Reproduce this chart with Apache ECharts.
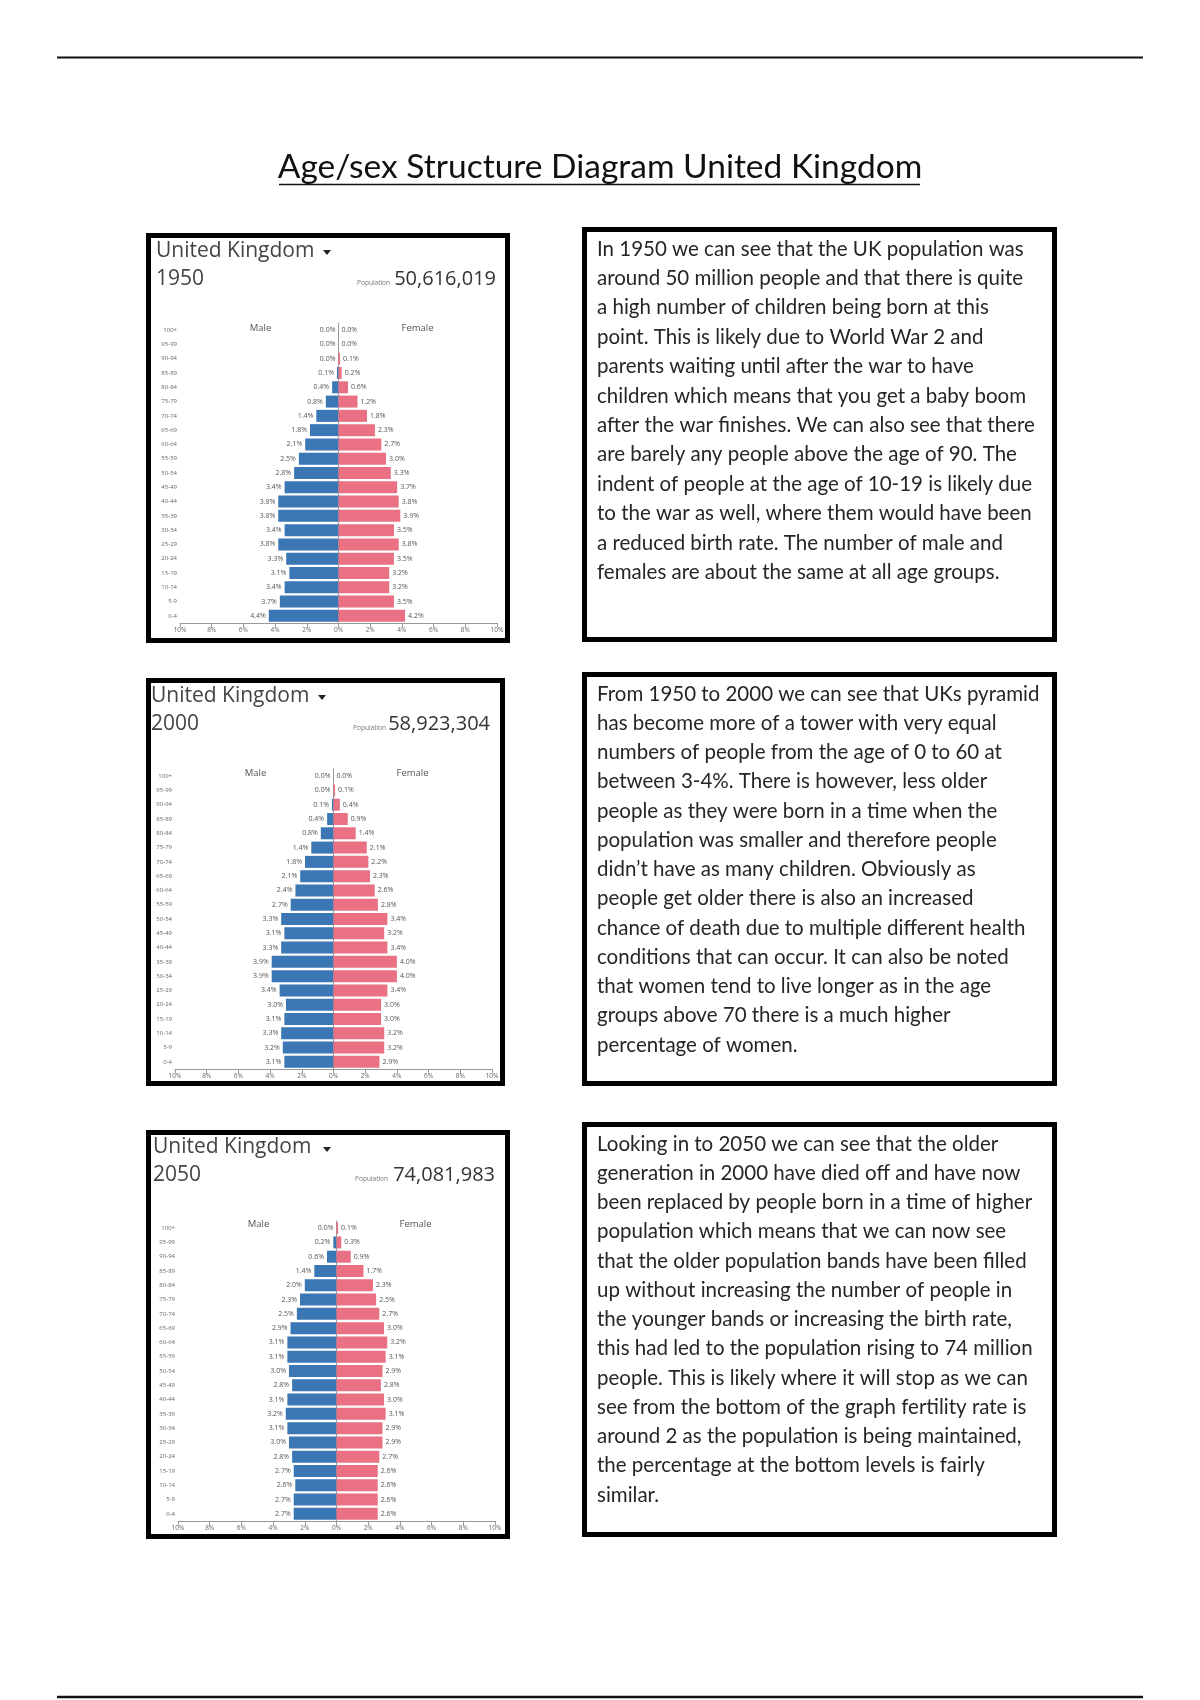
<!DOCTYPE html>
<html><head><meta charset="utf-8">
<script src="https://cdn.jsdelivr.net/npm/echarts@6/dist/echarts.min.js"></script>
<style>html,body{margin:0;padding:0;background:#fff}#c{width:1200px;height:1700px}</style>
</head><body><div id="c"></div>
<script>
// ---------- DATA ----------
const ageGroups = ['0-4','5-9','10-14','15-19','20-24','25-29','30-34','35-39','40-44','45-49','50-54','55-59','60-64','65-69','70-74','75-79','80-84','85-89','90-94','95-99','100+'];

const male1950   = [4.4,3.7,3.4,3.1,3.3,3.8,3.4,3.8,3.8,3.4,2.8,2.5,2.1,1.8,1.4,0.8,0.4,0.1,0.0,0.0,0.0];
const female1950 = [4.2,3.5,3.2,3.2,3.5,3.8,3.5,3.9,3.8,3.7,3.3,3.0,2.7,2.3,1.8,1.2,0.6,0.2,0.1,0.0,0.0];

const male2000   = [3.1,3.2,3.3,3.1,3.0,3.4,3.9,3.9,3.3,3.1,3.3,2.7,2.4,2.1,1.8,1.4,0.8,0.4,0.1,0.0,0.0];
const female2000 = [2.9,3.2,3.2,3.0,3.0,3.4,4.0,4.0,3.4,3.2,3.4,2.8,2.6,2.3,2.2,2.1,1.4,0.9,0.4,0.1,0.0];

const male2050   = [2.7,2.7,2.6,2.7,2.8,3.0,3.1,3.2,3.1,2.8,3.0,3.1,3.1,2.9,2.5,2.3,2.0,1.4,0.6,0.2,0.0];
const female2050 = [2.6,2.6,2.6,2.6,2.7,2.9,2.9,3.1,3.0,2.8,2.9,3.1,3.2,3.0,2.7,2.5,2.3,1.7,0.9,0.3,0.1];

const years = ['1950','2000','2050'];
const populations = ['50,616,019','58,923,304','74,081,983'];
const countryName = 'United Kingdom';
const maleLabel = 'Male';
const femaleLabel = 'Female';
const populationLabel = 'Population';
const pageTitle = 'Age/sex Structure Diagram United Kingdom';

const notes1950 = [
'In 1950 we can see that the UK population was',
'around 50 million people and that there is quite',
'a high number of children being born at this',
'point. This is likely due to World War 2 and',
'parents waiting until after the war to have',
'children which means that you get a baby boom',
'after the war finishes. We can also see that there',
'are barely any people above the age of 90. The',
'indent of people at the age of 10-19 is likely due',
'to the war as well, where them would have been',
'a reduced birth rate. The number of male and',
'females are about the same at all age groups.'];
const notes2000 = [
'From 1950 to 2000 we can see that UKs pyramid',
'has become more of a tower with very equal',
'numbers of people from the age of 0 to 60 at',
'between 3-4%. There is however, less older',
'people as they were born in a time when the',
'population was smaller and therefore people',
'didn\u2019t have as many children. Obviously as',
'people get older there is also an increased',
'chance of death due to multiple different health',
'conditions that can occur. It can also be noted',
'that women tend to live longer as in the age',
'groups above 70 there is a much higher',
'percentage of women.'];
const notes2050 = [
'Looking in to 2050 we can see that the older',
'generation in 2000 have died off and have now',
'been replaced by people born in a time of higher',
'population which means that we can now see',
'that the older population bands have been filled',
'up without increasing the number of people in',
'the younger bands or increasing the birth rate,',
'this had led to the population rising to 74 million',
'people. This is likely where it will stop as we can',
'see from the bottom of the graph fertility rate is',
'around 2 as the population is being maintained,',
'the percentage at the bottom levels is fairly',
'similar.'];

// ---------- LAYOUT ----------
const maleData = [male1950, male2000, male2050];
const femaleData = [female1950, female2000, female2050];
const notes = [notes1950, notes2000, notes2050];

const panels = [
  {box:[146,233,364,410], grid:{left:180,top:323,width:317,height:300}, head:{x:156,y1:251,y2:279,tri:[323,250],popR:496,labR:390,mfY:328}, text:{box:[582,227,475,415], y0:249, dy:29.4}},
  {box:[146,678,359,408], grid:{left:175,top:769,width:317,height:300}, head:{x:151,y1:696,y2:724,tri:[318,695],popR:490,labR:386,mfY:773}, text:{box:[582,672,475,414], y0:694, dy:29.25}},
  {box:[146,1130,364,409], grid:{left:178,top:1221,width:317,height:300}, head:{x:153,y1:1147,y2:1175,tri:[323,1147],popR:495,labR:388,mfY:1224}, text:{box:[582,1122,475,415], y0:1144, dy:29.25}}
];

const MALE = '#3a77b4', FEMALE = '#ea7184';
const HEAD_FONT = '"Open Sans", "Noto Sans", sans-serif';
const BODY_FONT = 'Lato, "Open Sans", sans-serif';

const grids = [], xAxes = [], yAxes = [], series = [], graphics = [];

panels.forEach((p, i) => {
  grids.push(Object.assign({containLabel:false}, p.grid));
  xAxes.push({
    type:'value', gridIndex:i, min:-10, max:10, interval:2,
    axisLine:{show:true, lineStyle:{color:'#999', width:1}},
    axisTick:{show:true, length:4, lineStyle:{color:'#999'}},
    splitLine:{show:false},
    axisLabel:{fontSize:6.5, color:'#666', margin:4, fontFamily:HEAD_FONT, formatter:v => Math.abs(v) + '%'}
  });
  yAxes.push({
    type:'category', gridIndex:i, data:ageGroups,
    axisLine:{show:true, lineStyle:{color:'#999', width:1}},
    axisTick:{show:false},
    axisLabel:{fontSize:6, color:'#666', margin:3, interval:0, fontFamily:HEAD_FONT}
  });
  const lbl = pos => ({show:true, position:pos, distance:3, fontSize:7, color:'#555', fontFamily:HEAD_FONT,
    formatter: q => Math.abs(q.value).toFixed(1) + '%'});
  series.push({
    type:'bar', name:'Male', xAxisIndex:i, yAxisIndex:i, stack:'s'+i, barCategoryGap:'16%',
    data: maleData[i].map(v => -v), itemStyle:{color:MALE}, label:lbl('left'), silent:true
  });
  series.push({
    type:'bar', name:'Female', xAxisIndex:i, yAxisIndex:i, stack:'s'+i, barCategoryGap:'16%',
    data: femaleData[i], itemStyle:{color:FEMALE}, label:lbl('right'), silent:true
  });

  // panel border
  const b = p.box;
  graphics.push({type:'rect', shape:{x:b[0]+2.5, y:b[1]+2.5, width:b[2]-5, height:b[3]-5}, style:{fill:'none', stroke:'#000', lineWidth:5}, silent:true});
  const h = p.head;
  graphics.push({type:'text', style:{text:countryName, x:h.x, y:h.y1, fill:'#444', font:'21px ' + HEAD_FONT, textAlign:'left', verticalAlign:'middle', textVerticalAlign:'middle'}});
  graphics.push({type:'polygon', shape:{points:[[h.tri[0],h.tri[1]],[h.tri[0]+8,h.tri[1]],[h.tri[0]+4,h.tri[1]+5]]}, style:{fill:'#222'}});
  graphics.push({type:'text', style:{text:years[i], x:h.x, y:h.y2, fill:'#444', font:'21px ' + HEAD_FONT, textAlign:'left', verticalAlign:'middle', textVerticalAlign:'middle'}});
  graphics.push({type:'text', style:{text:populations[i], x:h.popR, y:h.y2, fill:'#333', font:'20px ' + HEAD_FONT, textAlign:'right', verticalAlign:'middle', textVerticalAlign:'middle'}});
  graphics.push({type:'text', style:{text:populationLabel, x:h.labR, y:h.y2 + 4, fill:'#777', font:'6.5px ' + HEAD_FONT, textAlign:'right', verticalAlign:'middle', textVerticalAlign:'middle'}});
  const zeroX = p.grid.left + p.grid.width / 2;
  graphics.push({type:'text', style:{text:maleLabel, x:zeroX - 78, y:h.mfY, fill:'#555', font:'9.5px ' + HEAD_FONT, textAlign:'center', verticalAlign:'middle', textVerticalAlign:'middle'}});
  graphics.push({type:'text', style:{text:femaleLabel, x:zeroX + 79, y:h.mfY, fill:'#555', font:'9.5px ' + HEAD_FONT, textAlign:'center', verticalAlign:'middle', textVerticalAlign:'middle'}});

  // text box
  const t = p.text, tb = t.box;
  graphics.push({type:'rect', shape:{x:tb[0]+2.5, y:tb[1]+2.5, width:tb[2]-5, height:tb[3]-5}, style:{fill:'none', stroke:'#000', lineWidth:5}, silent:true});
  notes[i].forEach((line, k) => {
    graphics.push({type:'text', style:{text:line, x:597, y:t.y0 + k * t.dy, fill:'#262626', font:'20.5px ' + BODY_FONT, textAlign:'left', verticalAlign:'middle', textVerticalAlign:'middle'}});
  });
});

// page rules and title
graphics.push({type:'line', shape:{x1:57, y1:57.5, x2:1143, y2:57.5}, style:{stroke:'#111', lineWidth:2}});
graphics.push({type:'line', shape:{x1:57, y1:1697, x2:1143, y2:1697}, style:{stroke:'#111', lineWidth:2.5}});
graphics.push({type:'text', style:{text:pageTitle, x:600, y:167, fill:'#111', font:'33.5px ' + BODY_FONT, textAlign:'center', verticalAlign:'middle', textVerticalAlign:'middle'}});
graphics.push({type:'line', shape:{x1:279, y1:184.5, x2:920, y2:184.5}, style:{stroke:'#111', lineWidth:1.6}});

const chart = echarts.init(document.getElementById('c'), null, {renderer:'canvas'});
chart.setOption({
  animation:false,
  backgroundColor:'#ffffff',
  grid:grids, xAxis:xAxes, yAxis:yAxes, series:series,
  graphic:{elements:graphics}
});
</script>
</body></html>
